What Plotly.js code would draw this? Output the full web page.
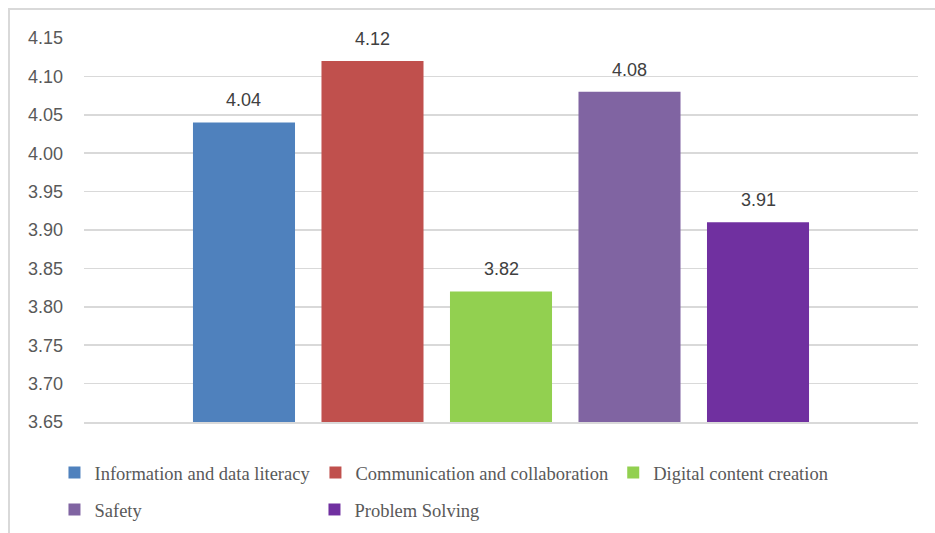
<!DOCTYPE html>
<html><head><meta charset="utf-8">
<script src="https://cdn.plot.ly/plotly-3.0.1.min.js"></script>
<style>
body{margin:0;padding:0;background:#fff;overflow:hidden}
#chart{width:935px;height:533px;position:absolute;left:0;top:0}
#frame{position:absolute;left:8px;top:8px;width:1000px;height:1000px;border:2px solid #d9d9d9;pointer-events:none}
</style></head>
<body><div id="chart"></div><div id="frame"></div>
<script>
const categories = ["Information and data literacy","Communication and collaboration","Digital content creation","Safety","Problem Solving"];
const values = [4.04, 4.12, 3.82, 4.08, 3.91];
const colors = ["#4f81bd","#c0504d","#92d050","#8064a2","#7030a0"];
const legendIds = ["legend","legend","legend","legend2","legend2"];
const yTicks = [3.65,3.70,3.75,3.80,3.85,3.90,3.95,4.00,4.05,4.10,4.15];

const traces = categories.map((c,i)=>({
  type:'bar', name:c, x:[c], y:[values[i]],
  marker:{color:colors[i]}, legend:legendIds[i], hoverinfo:'skip'
}));
const annotations = categories.map((c,i)=>({
  x:c, y:values[i], xref:'x', yref:'y', text:values[i].toFixed(2),
  showarrow:false, yanchor:'middle', yshift:22,
  font:{family:'Liberation Sans, Arial, sans-serif', size:18, color:'#404040'}
}));
const legFont = {family:'Liberation Serif, Times New Roman, serif', size:18.5, color:'#595959'};
const layout = {
  width:935, height:533,
  margin:{l:84, r:17, t:38, b:111, autoexpand:false},
  paper_bgcolor:'rgba(0,0,0,0)', plot_bgcolor:'rgba(0,0,0,0)',
  barmode:'overlay', bargap:0.206,
  xaxis:{type:'category', range:[-1.245,5.245], showticklabels:false, showgrid:false, zeroline:false,
         showline:true, linecolor:'#d9d9d9', linewidth:1.5, ticks:''},
  yaxis:{range:[3.65,4.15], tickvals:yTicks, ticktext:yTicks.map(v=>v.toFixed(2)),
         showgrid:true, gridcolor:'#d9d9d9', gridwidth:1.5, zeroline:false, showline:false,
         ticks:'', ticklabelstandoff:20,
         tickfont:{family:'Liberation Sans, Arial, sans-serif', size:18, color:'#595959'}},
  showlegend:true,
  legend:{orientation:'h', x:-0.0354, xanchor:'left', y:-0.133, yanchor:'middle', font:legFont, bgcolor:'rgba(0,0,0,0)'},
  legend2:{orientation:'h', x:-0.0354, xanchor:'left', y:-0.229, yanchor:'middle', font:legFont, bgcolor:'rgba(0,0,0,0)', entrywidth:215},
  annotations:annotations
};
Plotly.newPlot('chart', traces, layout, {displayModeBar:false, staticPlot:true});
</script></body></html>
